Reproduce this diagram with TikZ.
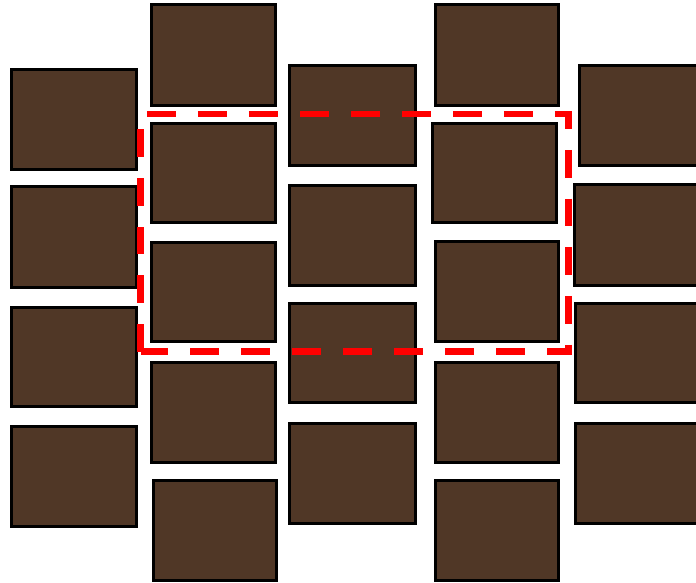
\documentclass[tikz,border=0pt]{standalone}

\definecolor{soil}{RGB}{80,55,38}

\tikzset{
  brick/.style={draw=black, line width=3pt, fill=soil},
  frame/.style={draw=red, line width=7pt, dash pattern=on 29pt off 22pt}
}

\begin{document}
\begin{tikzpicture}[x=1pt, y=-1pt]

  \useasboundingbox (0,0) rectangle (696,582);

  % Column 1
  \foreach \xa/\ya/\xb/\yb in {11.5/69.5/136.5/169.5, 11.5/186.5/136.5/287.5,
      11.5/307/136.5/406, 11.5/426/136.5/526.5}
    \draw[brick] (\xa,\ya) rectangle (\xb,\yb);

  % Column 2
  \foreach \xa/\ya/\xb/\yb in {151.5/4.8/275.5/105.5, 151.5/123.5/275.5/222.8,
      151.5/242.2/275.5/341.5, 151.5/362.5/275.5/462.2, 153.5/480.2/276.5/580.5}
    \draw[brick] (\xa,\ya) rectangle (\xb,\yb);

  % Column 3
  \foreach \xa/\ya/\xb/\yb in {289.8/65.5/415.5/165.8, 289.8/185.5/415.5/285.8,
      289.8/303.5/415.5/402.5, 289.8/423.2/415.5/523.5}
    \draw[brick] (\xa,\ya) rectangle (\xb,\yb);

  % Column 4
  \foreach \xa/\ya/\xb/\yb in {435.5/4.8/558.5/105.5, 432.2/123.5/556.8/222.8,
      435.5/241.7/558.5/341.5, 435.5/362.5/558.5/462.2, 435.5/480.2/558.5/580.5}
    \draw[brick] (\xa,\ya) rectangle (\xb,\yb);

  % Column 5 (runs off the right edge)
  \foreach \xa/\ya/\xb/\yb in {579/65.5/710/165.2, 574.8/184.8/710/285.8,
      575.5/303.2/710/402.8, 575.2/423.2/710/523.5}
    \draw[brick] (\xa,\ya) rectangle (\xb,\yb);

  % Dashed red outline
  \begin{scope}[transform canvas={yscale=0.955}]
    \draw[frame] (140.7,368.3) -- (140.7,119.4) -- (568.3,119.4)
      -- (568.3,368.3) -- cycle;
  \end{scope}

\end{tikzpicture}
\end{document}
